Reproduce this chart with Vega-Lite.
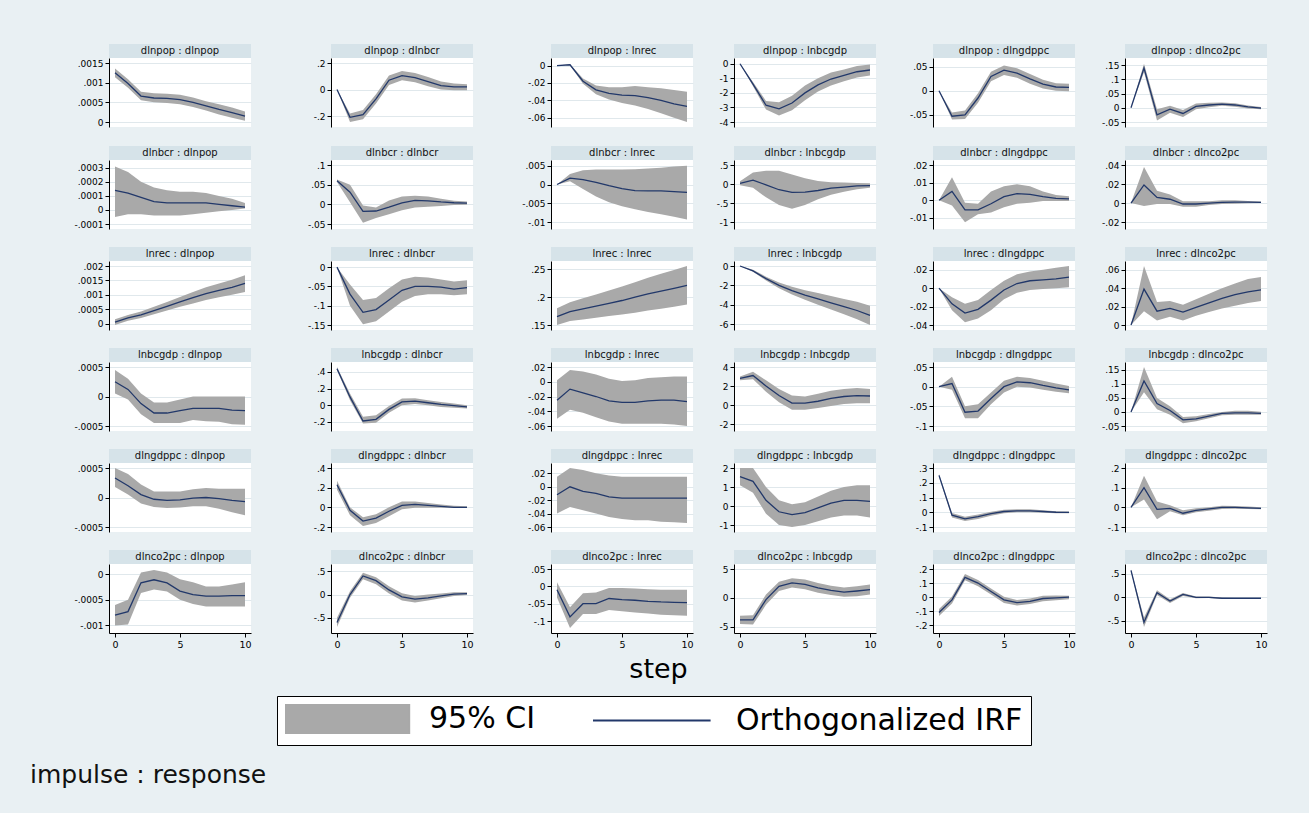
{
  "$schema": "https://vega.github.io/schema/vega-lite/v6.json",
  "background": "#e9f0f3",
  "padding": {"left": 0, "top": 44, "right": 47, "bottom": 25},
  "datasets": {
    "irf": [
      {"imp": "dlnpop", "resp": "dlnpop", "step": [0,1,2,3,4,5,6,7,8,9,10], "irf": [0.00125,0.00098,0.00066,0.00061,0.0006,0.00057,0.0005,0.00041,0.00032,0.00024,0.00015], "lo": [0.00114,0.00087,0.00055,0.0005,0.00048,0.00045,0.00038,0.00029,0.00019,0.00011,0.00003], "hi": [0.00136,0.00109,0.00077,0.00073,0.00072,0.00069,0.00062,0.00053,0.00045,0.00037,0.00027]},
      {"imp": "dlnpop", "resp": "dlnbcr", "step": [0,1,2,3,4,5,6,7,8,9,10], "irf": [0,-0.21,-0.19,-0.07,0.07,0.105,0.09,0.06,0.03,0.02,0.02], "lo": [0,-0.245,-0.225,-0.105,0.035,0.07,0.055,0.025,0,-0.005,-0.005], "hi": [0,-0.18,-0.155,-0.035,0.105,0.14,0.125,0.095,0.06,0.045,0.04]},
      {"imp": "dlnpop", "resp": "lnrec", "step": [0,1,2,3,4,5,6,7,8,9,10], "irf": [0,0.001,-0.018,-0.028,-0.032,-0.034,-0.0345,-0.037,-0.04,-0.044,-0.047], "lo": [0,0.0005,-0.021,-0.033,-0.039,-0.043,-0.046,-0.05,-0.055,-0.06,-0.065], "hi": [0,0.0015,-0.015,-0.023,-0.025,-0.025,-0.0235,-0.025,-0.026,-0.028,-0.03]},
      {"imp": "dlnpop", "resp": "lnbcgdp", "step": [0,1,2,3,4,5,6,7,8,9,10], "irf": [0,-1.4,-2.85,-3.1,-2.7,-2.0,-1.45,-1.05,-0.8,-0.55,-0.43], "lo": [0,-1.55,-3.15,-3.55,-3.2,-2.5,-1.9,-1.5,-1.2,-0.95,-0.8], "hi": [0,-1.25,-2.55,-2.65,-2.2,-1.5,-1.0,-0.6,-0.4,-0.15,-0.05]},
      {"imp": "dlnpop", "resp": "dlngdppc", "step": [0,1,2,3,4,5,6,7,8,9,10], "irf": [0,-0.053,-0.05,-0.015,0.03,0.043,0.037,0.025,0.014,0.008,0.007], "lo": [0,-0.06,-0.059,-0.025,0.02,0.033,0.027,0.015,0.005,0,-0.001], "hi": [0,-0.045,-0.041,-0.005,0.04,0.053,0.047,0.035,0.023,0.016,0.015]},
      {"imp": "dlnpop", "resp": "dlnco2pc", "step": [0,1,2,3,4,5,6,7,8,9,10], "irf": [0,0.14,-0.025,-0.005,-0.02,0.005,0.01,0.013,0.01,0.003,-0.001], "lo": [0,0.125,-0.045,-0.017,-0.032,-0.005,0.002,0.007,0.004,-0.002,-0.005], "hi": [0,0.155,-0.005,0.007,-0.008,0.015,0.018,0.019,0.016,0.008,0.003]},
      {"imp": "dlnbcr", "resp": "dlnpop", "step": [0,1,2,3,4,5,6,7,8,9,10], "irf": [0.00014,0.00012,0.00009,0.00006,0.00005,0.00005,0.00005,0.00005,0.00004,0.00003,0.00002], "lo": [-0.00005,-0.00003,-0.00003,-0.00004,-0.00004,-0.00004,-0.00003,-0.00002,-0.00001,0,0.00001], "hi": [0.00031,0.00027,0.0002,0.00016,0.00014,0.00013,0.00013,0.00012,0.0001,0.00008,0.00005]},
      {"imp": "dlnbcr", "resp": "dlnbcr", "step": [0,1,2,3,4,5,6,7,8,9,10], "irf": [0.06,0.031,-0.018,-0.017,-0.007,0.004,0.01,0.009,0.006,0.004,0.003], "lo": [0.057,0.005,-0.047,-0.035,-0.025,-0.015,-0.008,-0.006,-0.004,-0.002,-0.001], "hi": [0.063,0.05,-0.003,-0.008,0.01,0.02,0.022,0.02,0.014,0.009,0.007]},
      {"imp": "dlnbcr", "resp": "lnrec", "step": [0,1,2,3,4,5,6,7,8,9,10], "irf": [0,0.0017,0.0013,0.0006,-0.0003,-0.0011,-0.0016,-0.0017,-0.0017,-0.0019,-0.0021], "lo": [0,0.0009,-0.0012,-0.0032,-0.0047,-0.0058,-0.0066,-0.0073,-0.0079,-0.0086,-0.0093], "hi": [0,0.0028,0.0038,0.004,0.004,0.004,0.0041,0.0043,0.0045,0.0048,0.005]},
      {"imp": "dlnbcr", "resp": "lnbcgdp", "step": [0,1,2,3,4,5,6,7,8,9,10], "irf": [0.02,0.1,-0.02,-0.15,-0.22,-0.21,-0.17,-0.11,-0.08,-0.05,-0.04], "lo": [-0.03,-0.1,-0.35,-0.55,-0.65,-0.55,-0.4,-0.28,-0.2,-0.14,-0.1], "hi": [0.07,0.3,0.35,0.35,0.25,0.15,0.08,0.05,0.04,0.03,0.02]},
      {"imp": "dlnbcr", "resp": "dlngdppc", "step": [0,1,2,3,4,5,6,7,8,9,10], "irf": [0,0.005,-0.0055,-0.0055,-0.002,0.002,0.0037,0.0033,0.002,0.001,0.0008], "lo": [0,-0.003,-0.0125,-0.008,-0.007,-0.004,-0.002,-0.0015,-0.0005,-0.0005,-0.0005], "hi": [0,0.013,-0.0015,-0.002,0.005,0.008,0.009,0.008,0.005,0.003,0.0022]},
      {"imp": "dlnbcr", "resp": "dlnco2pc", "step": [0,1,2,3,4,5,6,7,8,9,10], "irf": [0,0.019,0.006,0.004,-0.001,-0.001,0,0.0008,0.001,0.001,0.0008], "lo": [0,-0.003,-0.001,-0.001,-0.004,-0.004,-0.002,-0.001,-0.0008,-0.0003,0], "hi": [0,0.038,0.013,0.009,0.002,0.002,0.002,0.003,0.003,0.0023,0.0016]},
      {"imp": "lnrec", "resp": "dlnpop", "step": [0,1,2,3,4,5,6,7,8,9,10], "irf": [0.00005,0.0002,0.0003,0.00045,0.0006,0.00075,0.0009,0.00104,0.00115,0.00126,0.0014], "lo": [-0.00005,0.0001,0.00019,0.00032,0.00045,0.00058,0.0007,0.00082,0.00091,0.001,0.0011], "hi": [0.00015,0.0003,0.00042,0.00058,0.00075,0.00092,0.0011,0.00126,0.00139,0.00152,0.00168]},
      {"imp": "lnrec", "resp": "dlnbcr", "step": [0,1,2,3,4,5,6,7,8,9,10], "irf": [0,-0.07,-0.117,-0.11,-0.085,-0.06,-0.05,-0.05,-0.052,-0.057,-0.053], "lo": [0,-0.1,-0.148,-0.14,-0.115,-0.09,-0.075,-0.07,-0.07,-0.073,-0.07], "hi": [0,-0.045,-0.085,-0.08,-0.055,-0.032,-0.025,-0.027,-0.032,-0.037,-0.034]},
      {"imp": "lnrec", "resp": "lnrec", "step": [0,1,2,3,4,5,6,7,8,9,10], "irf": [0.165,0.174,0.179,0.184,0.189,0.194,0.2,0.206,0.211,0.216,0.221], "lo": [0.15,0.157,0.16,0.163,0.166,0.169,0.172,0.176,0.179,0.183,0.187], "hi": [0.18,0.191,0.198,0.205,0.212,0.219,0.227,0.235,0.242,0.249,0.256]},
      {"imp": "lnrec", "resp": "lnbcgdp", "step": [0,1,2,3,4,5,6,7,8,9,10], "irf": [0,-0.5,-1.3,-2.0,-2.55,-3.0,-3.4,-3.8,-4.2,-4.6,-5.1], "lo": [0,-0.6,-1.5,-2.3,-2.95,-3.5,-4.0,-4.5,-5.0,-5.5,-6.1], "hi": [0,-0.4,-1.1,-1.7,-2.15,-2.5,-2.8,-3.1,-3.4,-3.7,-4.1]},
      {"imp": "lnrec", "resp": "dlngdppc", "step": [0,1,2,3,4,5,6,7,8,9,10], "irf": [0,-0.017,-0.027,-0.023,-0.013,-0.002,0.005,0.008,0.009,0.01,0.012], "lo": [0,-0.024,-0.037,-0.033,-0.024,-0.012,-0.005,-0.002,-0.001,0,0.001], "hi": [0,-0.01,-0.017,-0.013,-0.002,0.008,0.015,0.018,0.02,0.022,0.024]},
      {"imp": "lnrec", "resp": "dlnco2pc", "step": [0,1,2,3,4,5,6,7,8,9,10], "irf": [0,0.039,0.015,0.018,0.014,0.019,0.024,0.029,0.033,0.036,0.038], "lo": [0,0.015,0.005,0.009,0.005,0.01,0.014,0.018,0.021,0.024,0.026], "hi": [0,0.064,0.025,0.026,0.022,0.028,0.034,0.04,0.045,0.05,0.052]},
      {"imp": "lnbcgdp", "resp": "dlnpop", "step": [0,1,2,3,4,5,6,7,8,9,10], "irf": [0.00025,0.00012,-0.00012,-0.00028,-0.00028,-0.00024,-0.0002,-0.0002,-0.0002,-0.00023,-0.00024], "lo": [0.00005,-0.00005,-0.0003,-0.00045,-0.00045,-0.00045,-0.0004,-0.00042,-0.00043,-0.00047,-0.00048], "hi": [0.00045,0.0003,0.00005,-0.0001,-0.0001,-0.00005,0,0,0,0,0]},
      {"imp": "lnbcgdp", "resp": "dlnbcr", "step": [0,1,2,3,4,5,6,7,8,9,10], "irf": [0.44,0.1,-0.19,-0.17,-0.05,0.04,0.05,0.03,0.01,-0.005,-0.02], "lo": [0.42,0.06,-0.22,-0.21,-0.09,0,0.015,0,-0.02,-0.03,-0.04], "hi": [0.46,0.14,-0.14,-0.12,-0.01,0.08,0.085,0.06,0.04,0.02,0]},
      {"imp": "lnbcgdp", "resp": "lnrec", "step": [0,1,2,3,4,5,6,7,8,9,10], "irf": [-0.025,-0.01,-0.015,-0.02,-0.026,-0.028,-0.028,-0.026,-0.025,-0.025,-0.027], "lo": [-0.05,-0.038,-0.042,-0.048,-0.054,-0.057,-0.057,-0.057,-0.057,-0.058,-0.06], "hi": [0.002,0.016,0.014,0.01,0.004,0.001,0.002,0.005,0.006,0.007,0.007]},
      {"imp": "lnbcgdp", "resp": "lnbcgdp", "step": [0,1,2,3,4,5,6,7,8,9,10], "irf": [2.8,3.1,2.0,1.0,0.2,0.2,0.4,0.7,0.9,1.0,0.95], "lo": [2.6,2.7,1.4,0.3,-0.5,-0.5,-0.3,-0.1,0.1,0.2,0.2], "hi": [3.0,3.5,2.6,1.7,1.0,0.9,1.2,1.5,1.7,1.8,1.7]},
      {"imp": "lnbcgdp", "resp": "dlngdppc", "step": [0,1,2,3,4,5,6,7,8,9,10], "irf": [0,0.008,-0.065,-0.062,-0.03,0,0.012,0.01,0.003,-0.003,-0.008], "lo": [0,-0.008,-0.08,-0.08,-0.045,-0.015,0,-0.002,-0.008,-0.013,-0.017], "hi": [0,0.025,-0.05,-0.045,-0.015,0.015,0.025,0.022,0.015,0.008,0.002]},
      {"imp": "lnbcgdp", "resp": "dlnco2pc", "step": [0,1,2,3,4,5,6,7,8,9,10], "irf": [0,0.11,0.03,0.005,-0.028,-0.025,-0.015,-0.005,-0.003,-0.003,-0.005], "lo": [0,0.07,0.01,-0.01,-0.04,-0.033,-0.022,-0.012,-0.01,-0.01,-0.01], "hi": [0,0.16,0.05,0.02,-0.018,-0.015,-0.007,0,0.004,0.004,0.001]},
      {"imp": "dlngdppc", "resp": "dlnpop", "step": [0,1,2,3,4,5,6,7,8,9,10], "irf": [0.00033,0.0002,0.00005,-0.00003,-0.00005,-0.00004,-0.00001,0,-0.00002,-0.00005,-0.00007], "lo": [0.00018,0.00005,-0.0001,-0.00016,-0.00018,-0.00017,-0.00015,-0.00015,-0.00019,-0.00025,-0.0003], "hi": [0.0005,0.0004,0.00022,0.0001,0.0001,0.0001,0.00014,0.00016,0.00015,0.00015,0.00015]},
      {"imp": "dlngdppc", "resp": "dlnbcr", "step": [0,1,2,3,4,5,6,7,8,9,10], "irf": [0.23,-0.03,-0.14,-0.11,-0.04,0.02,0.03,0.02,0.01,0,0], "lo": [0.18,-0.08,-0.19,-0.16,-0.09,-0.02,-0.005,-0.005,-0.005,-0.005,-0.005], "hi": [0.27,0,-0.1,-0.07,0,0.06,0.06,0.045,0.03,0.015,0.01]},
      {"imp": "dlngdppc", "resp": "lnrec", "step": [0,1,2,3,4,5,6,7,8,9,10], "irf": [-0.012,0,-0.007,-0.01,-0.015,-0.017,-0.017,-0.017,-0.017,-0.017,-0.017], "lo": [-0.04,-0.03,-0.035,-0.04,-0.045,-0.048,-0.05,-0.05,-0.052,-0.053,-0.054], "hi": [0.015,0.028,0.025,0.02,0.017,0.015,0.015,0.015,0.015,0.015,0.015]},
      {"imp": "dlngdppc", "resp": "lnbcgdp", "step": [0,1,2,3,4,5,6,7,8,9,10], "irf": [1.55,1.3,0.3,-0.3,-0.45,-0.35,-0.1,0.15,0.3,0.3,0.25], "lo": [1.1,0.7,-0.4,-1.0,-1.1,-1.0,-0.8,-0.6,-0.5,-0.5,-0.6], "hi": [2.0,2.0,1.0,0.3,0.1,0.2,0.5,0.8,1.0,1.1,1.1]},
      {"imp": "dlngdppc", "resp": "dlngdppc", "step": [0,1,2,3,4,5,6,7,8,9,10], "irf": [0.25,-0.02,-0.045,-0.03,-0.01,0.005,0.01,0.01,0.005,0,-0.001], "lo": [0.24,-0.035,-0.06,-0.045,-0.023,-0.007,0,0,-0.004,-0.007,-0.007], "hi": [0.26,-0.005,-0.03,-0.015,0.003,0.017,0.02,0.02,0.014,0.007,0.005]},
      {"imp": "dlngdppc", "resp": "dlnco2pc", "step": [0,1,2,3,4,5,6,7,8,9,10], "irf": [0,0.1,-0.01,-0.005,-0.03,-0.015,-0.008,0,0,-0.003,-0.005], "lo": [0,0.04,-0.06,-0.02,-0.04,-0.025,-0.018,-0.008,-0.007,-0.008,-0.01], "hi": [0,0.16,0.03,0.01,-0.015,-0.005,0,0.008,0.007,0.004,0.001]},
      {"imp": "dlnco2pc", "resp": "dlnpop", "step": [0,1,2,3,4,5,6,7,8,9,10], "irf": [-0.0008,-0.00073,-0.00017,-0.00011,-0.00017,-0.00033,-0.0004,-0.00043,-0.00043,-0.00042,-0.00042], "lo": [-0.001,-0.00098,-0.00037,-0.0003,-0.00034,-0.0005,-0.00058,-0.00063,-0.00063,-0.00063,-0.00063], "hi": [-0.0006,-0.0005,0.00003,0.00008,0.00003,-0.0001,-0.00016,-0.00024,-0.00024,-0.0002,-0.00016]},
      {"imp": "dlnco2pc", "resp": "dlnbcr", "step": [0,1,2,3,4,5,6,7,8,9,10], "irf": [-0.6,0,0.4,0.3,0.1,-0.05,-0.1,-0.07,-0.03,0.01,0.02], "lo": [-0.7,-0.07,0.33,0.22,0.02,-0.13,-0.17,-0.13,-0.08,-0.03,-0.01], "hi": [-0.5,0.07,0.47,0.37,0.18,0.03,-0.03,0,0.02,0.05,0.05]},
      {"imp": "dlnco2pc", "resp": "lnrec", "step": [0,1,2,3,4,5,6,7,8,9,10], "irf": [-0.01,-0.088,-0.05,-0.05,-0.035,-0.038,-0.04,-0.043,-0.045,-0.046,-0.047], "lo": [-0.032,-0.12,-0.08,-0.08,-0.068,-0.072,-0.075,-0.078,-0.082,-0.083,-0.085], "hi": [0.012,-0.06,-0.02,-0.018,-0.005,-0.005,-0.006,-0.008,-0.01,-0.01,-0.01]},
      {"imp": "dlnco2pc", "resp": "lnbcgdp", "step": [0,1,2,3,4,5,6,7,8,9,10], "irf": [-3.8,-3.8,-0.3,2.0,2.6,2.35,1.75,1.3,1.0,1.2,1.45], "lo": [-4.5,-4.6,-1.2,1.2,1.8,1.5,0.9,0.5,0.2,0.3,0.6], "hi": [-3.1,-3.0,0.6,2.8,3.4,3.2,2.6,2.1,1.8,2.0,2.3]},
      {"imp": "dlnco2pc", "resp": "dlngdppc", "step": [0,1,2,3,4,5,6,7,8,9,10], "irf": [-0.11,-0.02,0.14,0.1,0.04,-0.02,-0.04,-0.03,-0.01,-0.005,0], "lo": [-0.135,-0.045,0.12,0.078,0.018,-0.042,-0.06,-0.05,-0.03,-0.022,-0.015], "hi": [-0.085,0.005,0.165,0.122,0.062,0.002,-0.02,-0.01,0.01,0.012,0.01]},
      {"imp": "dlnco2pc", "resp": "dlnco2pc", "step": [0,1,2,3,4,5,6,7,8,9,10], "irf": [0.57,-0.53,0.1,-0.08,0.06,0,0,-0.02,-0.02,-0.02,-0.02], "lo": [0.55,-0.63,0.05,-0.12,0.03,-0.02,-0.015,-0.035,-0.03,-0.03,-0.03], "hi": [0.59,-0.43,0.15,-0.04,0.09,0.02,0.015,-0.005,-0.01,-0.01,-0.01]}
    ]
  },
  "data": {"name": "irf"},
  "transform": [{"flatten": ["step", "irf", "lo", "hi"]}],
  "title": {"text": "impulse : response", "orient": "bottom", "anchor": "start", "fontSize": 25, "fontWeight": "normal", "color": "#111", "offset": 17, "dx": 30},
  "vconcat": [
    {
      "title": {"text": "step", "orient": "bottom", "anchor": "middle", "fontSize": 27, "fontWeight": "normal", "color": "#000", "offset": 8, "dx": 25},
      "columns": 6,
      "spacing": {"row": 18, "column": 4},
      "concat": [
        {"bounds": "flush", "spacing": 0, "vconcat": [
          {"width": 142, "height": 14, "view": {"fill": "#d6e3e9", "stroke": null}, "data": {"values": [{"t": "dlnpop : dlnpop"}]}, "mark": {"type": "text", "fontSize": 10}, "encoding": {"text": {"field": "t"}}},
          {"width": 142, "height": 69, "transform": [{"filter": "datum.imp == 'dlnpop' && datum.resp == 'dlnpop'"}],
           "encoding": {"x": {"field": "step", "type": "quantitative", "scale": {"domain": [0, 10], "padding": 6}, "axis": null}},
           "layer": [
             {"mark": "area", "encoding": {"y": {"field": "lo", "type": "quantitative", "scale": {"domain": [0, 0.0015], "zero": false, "nice": false, "padding": 5}, "axis": {"title": null, "values": [0, 0.0005, 0.001, 0.0015], "minExtent": 109, "maxExtent": 109, "labelExpr": "replace(toString(datum.value), regexp('^(-?)0[.]'), '$1.')"}}, "y2": {"field": "hi"},
               "color": {"datum": "95% CI", "legend": {"title": null, "orient": "none", "legendX": 168, "legendY": 652, "direction": "horizontal",
                 "encode": {"symbols": {"update": {
                   "shape": {"signal": "datum.value === '95% CI' ? 'M-1,-1H7.8V1H-1Z' : 'M-1,0H7.4'"},
                   "fill": {"signal": "datum.value === '95% CI' ? '#a9a9a9' : 'transparent'"},
                   "stroke": {"signal": "datum.value === '95% CI' ? '#9a9a9a' : '#22386a'"},
                   "strokeWidth": {"value": 2}, "opacity": {"value": 1}}}}}}}},
             {"mark": "line", "encoding": {"y": {"field": "irf", "type": "quantitative"}, "color": {"datum": "Orthogonalized IRF"}}}
           ]}
        ]},
        {"bounds": "flush", "spacing": 0, "vconcat": [
          {"width": 142, "height": 14, "view": {"fill": "#d6e3e9", "stroke": null}, "data": {"values": [{"t": "dlnpop : dlnbcr"}]}, "mark": {"type": "text", "fontSize": 10}, "encoding": {"text": {"field": "t"}}},
          {"width": 142, "height": 69, "transform": [{"filter": "datum.imp == 'dlnpop' && datum.resp == 'dlnbcr'"}],
           "encoding": {"x": {"field": "step", "type": "quantitative", "scale": {"domain": [0, 10], "padding": 6}, "axis": null}},
           "layer": [
             {"mark": "area", "encoding": {"y": {"field": "lo", "type": "quantitative", "scale": {"domain": [-0.245, 0.2], "zero": false, "nice": false, "padding": 5}, "axis": {"title": null, "values": [-0.2, 0, 0.2], "minExtent": 75, "maxExtent": 75, "labelExpr": "replace(toString(datum.value), regexp('^(-?)0[.]'), '$1.')"}}, "y2": {"field": "hi"}, "color": {"datum": "95% CI"}}},
             {"mark": "line", "encoding": {"y": {"field": "irf", "type": "quantitative"}, "color": {"datum": "Orthogonalized IRF"}}}
           ]}
        ]},
        {"bounds": "flush", "spacing": 0, "vconcat": [
          {"width": 142, "height": 14, "view": {"fill": "#d6e3e9", "stroke": null}, "data": {"values": [{"t": "dlnpop : lnrec"}]}, "mark": {"type": "text", "fontSize": 10}, "encoding": {"text": {"field": "t"}}},
          {"width": 142, "height": 69, "transform": [{"filter": "datum.imp == 'dlnpop' && datum.resp == 'lnrec'"}],
           "encoding": {"x": {"field": "step", "type": "quantitative", "scale": {"domain": [0, 10], "padding": 6}, "axis": null}},
           "layer": [
             {"mark": "area", "encoding": {"y": {"field": "lo", "type": "quantitative", "scale": {"domain": [-0.065, 0.003], "zero": false, "nice": false, "padding": 5}, "axis": {"title": null, "values": [-0.06, -0.04, -0.02, 0], "minExtent": 73, "maxExtent": 73, "labelExpr": "replace(toString(datum.value), regexp('^(-?)0[.]'), '$1.')"}}, "y2": {"field": "hi"}, "color": {"datum": "95% CI"}}},
             {"mark": "line", "encoding": {"y": {"field": "irf", "type": "quantitative"}, "color": {"datum": "Orthogonalized IRF"}}}
           ]}
        ]},
        {"bounds": "flush", "spacing": 0, "vconcat": [
          {"width": 142, "height": 14, "view": {"fill": "#d6e3e9", "stroke": null}, "data": {"values": [{"t": "dlnpop : lnbcgdp"}]}, "mark": {"type": "text", "fontSize": 10}, "encoding": {"text": {"field": "t"}}},
          {"width": 142, "height": 69, "transform": [{"filter": "datum.imp == 'dlnpop' && datum.resp == 'lnbcgdp'"}],
           "encoding": {"x": {"field": "step", "type": "quantitative", "scale": {"domain": [0, 10], "padding": 6}, "axis": null}},
           "layer": [
             {"mark": "area", "encoding": {"y": {"field": "lo", "type": "quantitative", "scale": {"domain": [-4, 0.05], "zero": false, "nice": false, "padding": 5}, "axis": {"title": null, "values": [-4, -3, -2, -1, 0], "minExtent": 36, "maxExtent": 36, "labelExpr": "replace(toString(datum.value), regexp('^(-?)0[.]'), '$1.')"}}, "y2": {"field": "hi"}, "color": {"datum": "95% CI"}}},
             {"mark": "line", "encoding": {"y": {"field": "irf", "type": "quantitative"}, "color": {"datum": "Orthogonalized IRF"}}}
           ]}
        ]},
        {"bounds": "flush", "spacing": 0, "vconcat": [
          {"width": 142, "height": 14, "view": {"fill": "#d6e3e9", "stroke": null}, "data": {"values": [{"t": "dlnpop : dlngdppc"}]}, "mark": {"type": "text", "fontSize": 10}, "encoding": {"text": {"field": "t"}}},
          {"width": 142, "height": 69, "transform": [{"filter": "datum.imp == 'dlnpop' && datum.resp == 'dlngdppc'"}],
           "encoding": {"x": {"field": "step", "type": "quantitative", "scale": {"domain": [0, 10], "padding": 6}, "axis": null}},
           "layer": [
             {"mark": "area", "encoding": {"y": {"field": "lo", "type": "quantitative", "scale": {"domain": [-0.065, 0.058], "zero": false, "nice": false, "padding": 5}, "axis": {"title": null, "values": [-0.05, 0, 0.05], "minExtent": 52, "maxExtent": 52, "labelExpr": "replace(toString(datum.value), regexp('^(-?)0[.]'), '$1.')"}}, "y2": {"field": "hi"}, "color": {"datum": "95% CI"}}},
             {"mark": "line", "encoding": {"y": {"field": "irf", "type": "quantitative"}, "color": {"datum": "Orthogonalized IRF"}}}
           ]}
        ]},
        {"bounds": "flush", "spacing": 0, "vconcat": [
          {"width": 142, "height": 14, "view": {"fill": "#d6e3e9", "stroke": null}, "data": {"values": [{"t": "dlnpop : dlnco2pc"}]}, "mark": {"type": "text", "fontSize": 10}, "encoding": {"text": {"field": "t"}}},
          {"width": 142, "height": 69, "transform": [{"filter": "datum.imp == 'dlnpop' && datum.resp == 'dlnco2pc'"}],
           "encoding": {"x": {"field": "step", "type": "quantitative", "scale": {"domain": [0, 10], "padding": 6}, "axis": null}},
           "layer": [
             {"mark": "area", "encoding": {"y": {"field": "lo", "type": "quantitative", "scale": {"domain": [-0.05, 0.158], "zero": false, "nice": false, "padding": 5}, "axis": {"title": null, "values": [-0.05, 0, 0.05, 0.1, 0.15], "minExtent": 45, "maxExtent": 45, "labelExpr": "replace(toString(datum.value), regexp('^(-?)0[.]'), '$1.')"}}, "y2": {"field": "hi"}, "color": {"datum": "95% CI"}}},
             {"mark": "line", "encoding": {"y": {"field": "irf", "type": "quantitative"}, "color": {"datum": "Orthogonalized IRF"}}}
           ]}
        ]},

        {"bounds": "flush", "spacing": 0, "vconcat": [
          {"width": 142, "height": 14, "view": {"fill": "#d6e3e9", "stroke": null}, "data": {"values": [{"t": "dlnbcr : dlnpop"}]}, "mark": {"type": "text", "fontSize": 10}, "encoding": {"text": {"field": "t"}}},
          {"width": 142, "height": 69, "transform": [{"filter": "datum.imp == 'dlnbcr' && datum.resp == 'dlnpop'"}],
           "encoding": {"x": {"field": "step", "type": "quantitative", "scale": {"domain": [0, 10], "padding": 6}, "axis": null}},
           "layer": [
             {"mark": "area", "encoding": {"y": {"field": "lo", "type": "quantitative", "scale": {"domain": [-0.0001, 0.00032], "zero": false, "nice": false, "padding": 5}, "axis": {"title": null, "values": [-0.0001, 0, 0.0001, 0.0002, 0.0003], "minExtent": 109, "maxExtent": 109, "labelExpr": "replace(toString(datum.value), regexp('^(-?)0[.]'), '$1.')"}}, "y2": {"field": "hi"}, "color": {"datum": "95% CI"}}},
             {"mark": "line", "encoding": {"y": {"field": "irf", "type": "quantitative"}, "color": {"datum": "Orthogonalized IRF"}}}
           ]}
        ]},
        {"bounds": "flush", "spacing": 0, "vconcat": [
          {"width": 142, "height": 14, "view": {"fill": "#d6e3e9", "stroke": null}, "data": {"values": [{"t": "dlnbcr : dlnbcr"}]}, "mark": {"type": "text", "fontSize": 10}, "encoding": {"text": {"field": "t"}}},
          {"width": 142, "height": 69, "transform": [{"filter": "datum.imp == 'dlnbcr' && datum.resp == 'dlnbcr'"}],
           "encoding": {"x": {"field": "step", "type": "quantitative", "scale": {"domain": [0, 10], "padding": 6}, "axis": null}},
           "layer": [
             {"mark": "area", "encoding": {"y": {"field": "lo", "type": "quantitative", "scale": {"domain": [-0.05, 0.1], "zero": false, "nice": false, "padding": 5}, "axis": {"title": null, "values": [-0.05, 0, 0.05, 0.1], "minExtent": 75, "maxExtent": 75, "labelExpr": "replace(toString(datum.value), regexp('^(-?)0[.]'), '$1.')"}}, "y2": {"field": "hi"}, "color": {"datum": "95% CI"}}},
             {"mark": "line", "encoding": {"y": {"field": "irf", "type": "quantitative"}, "color": {"datum": "Orthogonalized IRF"}}}
           ]}
        ]},
        {"bounds": "flush", "spacing": 0, "vconcat": [
          {"width": 142, "height": 14, "view": {"fill": "#d6e3e9", "stroke": null}, "data": {"values": [{"t": "dlnbcr : lnrec"}]}, "mark": {"type": "text", "fontSize": 10}, "encoding": {"text": {"field": "t"}}},
          {"width": 142, "height": 69, "transform": [{"filter": "datum.imp == 'dlnbcr' && datum.resp == 'lnrec'"}],
           "encoding": {"x": {"field": "step", "type": "quantitative", "scale": {"domain": [0, 10], "padding": 6}, "axis": null}},
           "layer": [
             {"mark": "area", "encoding": {"y": {"field": "lo", "type": "quantitative", "scale": {"domain": [-0.0105, 0.0052], "zero": false, "nice": false, "padding": 5}, "axis": {"title": null, "values": [-0.01, -0.005, 0, 0.005], "minExtent": 73, "maxExtent": 73, "labelExpr": "replace(toString(datum.value), regexp('^(-?)0[.]'), '$1.')"}}, "y2": {"field": "hi"}, "color": {"datum": "95% CI"}}},
             {"mark": "line", "encoding": {"y": {"field": "irf", "type": "quantitative"}, "color": {"datum": "Orthogonalized IRF"}}}
           ]}
        ]},
        {"bounds": "flush", "spacing": 0, "vconcat": [
          {"width": 142, "height": 14, "view": {"fill": "#d6e3e9", "stroke": null}, "data": {"values": [{"t": "dlnbcr : lnbcgdp"}]}, "mark": {"type": "text", "fontSize": 10}, "encoding": {"text": {"field": "t"}}},
          {"width": 142, "height": 69, "transform": [{"filter": "datum.imp == 'dlnbcr' && datum.resp == 'lnbcgdp'"}],
           "encoding": {"x": {"field": "step", "type": "quantitative", "scale": {"domain": [0, 10], "padding": 6}, "axis": null}},
           "layer": [
             {"mark": "area", "encoding": {"y": {"field": "lo", "type": "quantitative", "scale": {"domain": [-1.05, 0.5], "zero": false, "nice": false, "padding": 5}, "axis": {"title": null, "values": [-1, -0.5, 0, 0.5], "minExtent": 36, "maxExtent": 36, "labelExpr": "replace(toString(datum.value), regexp('^(-?)0[.]'), '$1.')"}}, "y2": {"field": "hi"}, "color": {"datum": "95% CI"}}},
             {"mark": "line", "encoding": {"y": {"field": "irf", "type": "quantitative"}, "color": {"datum": "Orthogonalized IRF"}}}
           ]}
        ]},
        {"bounds": "flush", "spacing": 0, "vconcat": [
          {"width": 142, "height": 14, "view": {"fill": "#d6e3e9", "stroke": null}, "data": {"values": [{"t": "dlnbcr : dlngdppc"}]}, "mark": {"type": "text", "fontSize": 10}, "encoding": {"text": {"field": "t"}}},
          {"width": 142, "height": 69, "transform": [{"filter": "datum.imp == 'dlnbcr' && datum.resp == 'dlngdppc'"}],
           "encoding": {"x": {"field": "step", "type": "quantitative", "scale": {"domain": [0, 10], "padding": 6}, "axis": null}},
           "layer": [
             {"mark": "area", "encoding": {"y": {"field": "lo", "type": "quantitative", "scale": {"domain": [-0.0135, 0.02], "zero": false, "nice": false, "padding": 5}, "axis": {"title": null, "values": [-0.01, 0, 0.01, 0.02], "minExtent": 52, "maxExtent": 52, "labelExpr": "replace(toString(datum.value), regexp('^(-?)0[.]'), '$1.')"}}, "y2": {"field": "hi"}, "color": {"datum": "95% CI"}}},
             {"mark": "line", "encoding": {"y": {"field": "irf", "type": "quantitative"}, "color": {"datum": "Orthogonalized IRF"}}}
           ]}
        ]},
        {"bounds": "flush", "spacing": 0, "vconcat": [
          {"width": 142, "height": 14, "view": {"fill": "#d6e3e9", "stroke": null}, "data": {"values": [{"t": "dlnbcr : dlnco2pc"}]}, "mark": {"type": "text", "fontSize": 10}, "encoding": {"text": {"field": "t"}}},
          {"width": 142, "height": 69, "transform": [{"filter": "datum.imp == 'dlnbcr' && datum.resp == 'dlnco2pc'"}],
           "encoding": {"x": {"field": "step", "type": "quantitative", "scale": {"domain": [0, 10], "padding": 6}, "axis": null}},
           "layer": [
             {"mark": "area", "encoding": {"y": {"field": "lo", "type": "quantitative", "scale": {"domain": [-0.022, 0.04], "zero": false, "nice": false, "padding": 5}, "axis": {"title": null, "values": [-0.02, 0, 0.02, 0.04], "minExtent": 45, "maxExtent": 45, "labelExpr": "replace(toString(datum.value), regexp('^(-?)0[.]'), '$1.')"}}, "y2": {"field": "hi"}, "color": {"datum": "95% CI"}}},
             {"mark": "line", "encoding": {"y": {"field": "irf", "type": "quantitative"}, "color": {"datum": "Orthogonalized IRF"}}}
           ]}
        ]},

        {"bounds": "flush", "spacing": 0, "vconcat": [
          {"width": 142, "height": 14, "view": {"fill": "#d6e3e9", "stroke": null}, "data": {"values": [{"t": "lnrec : dlnpop"}]}, "mark": {"type": "text", "fontSize": 10}, "encoding": {"text": {"field": "t"}}},
          {"width": 142, "height": 69, "transform": [{"filter": "datum.imp == 'lnrec' && datum.resp == 'dlnpop'"}],
           "encoding": {"x": {"field": "step", "type": "quantitative", "scale": {"domain": [0, 10], "padding": 6}, "axis": null}},
           "layer": [
             {"mark": "area", "encoding": {"y": {"field": "lo", "type": "quantitative", "scale": {"domain": [-0.00005, 0.002], "zero": false, "nice": false, "padding": 5}, "axis": {"title": null, "values": [0, 0.0005, 0.001, 0.0015, 0.002], "minExtent": 109, "maxExtent": 109, "labelExpr": "replace(toString(datum.value), regexp('^(-?)0[.]'), '$1.')"}}, "y2": {"field": "hi"}, "color": {"datum": "95% CI"}}},
             {"mark": "line", "encoding": {"y": {"field": "irf", "type": "quantitative"}, "color": {"datum": "Orthogonalized IRF"}}}
           ]}
        ]},
        {"bounds": "flush", "spacing": 0, "vconcat": [
          {"width": 142, "height": 14, "view": {"fill": "#d6e3e9", "stroke": null}, "data": {"values": [{"t": "lnrec : dlnbcr"}]}, "mark": {"type": "text", "fontSize": 10}, "encoding": {"text": {"field": "t"}}},
          {"width": 142, "height": 69, "transform": [{"filter": "datum.imp == 'lnrec' && datum.resp == 'dlnbcr'"}],
           "encoding": {"x": {"field": "step", "type": "quantitative", "scale": {"domain": [0, 10], "padding": 6}, "axis": null}},
           "layer": [
             {"mark": "area", "encoding": {"y": {"field": "lo", "type": "quantitative", "scale": {"domain": [-0.15, 0.003], "zero": false, "nice": false, "padding": 5}, "axis": {"title": null, "values": [-0.15, -0.1, -0.05, 0], "minExtent": 75, "maxExtent": 75, "labelExpr": "replace(toString(datum.value), regexp('^(-?)0[.]'), '$1.')"}}, "y2": {"field": "hi"}, "color": {"datum": "95% CI"}}},
             {"mark": "line", "encoding": {"y": {"field": "irf", "type": "quantitative"}, "color": {"datum": "Orthogonalized IRF"}}}
           ]}
        ]},
        {"bounds": "flush", "spacing": 0, "vconcat": [
          {"width": 142, "height": 14, "view": {"fill": "#d6e3e9", "stroke": null}, "data": {"values": [{"t": "lnrec : lnrec"}]}, "mark": {"type": "text", "fontSize": 10}, "encoding": {"text": {"field": "t"}}},
          {"width": 142, "height": 69, "transform": [{"filter": "datum.imp == 'lnrec' && datum.resp == 'lnrec'"}],
           "encoding": {"x": {"field": "step", "type": "quantitative", "scale": {"domain": [0, 10], "padding": 6}, "axis": null}},
           "layer": [
             {"mark": "area", "encoding": {"y": {"field": "lo", "type": "quantitative", "scale": {"domain": [0.15, 0.256], "zero": false, "nice": false, "padding": 5}, "axis": {"title": null, "values": [0.15, 0.2, 0.25], "minExtent": 73, "maxExtent": 73, "labelExpr": "replace(toString(datum.value), regexp('^(-?)0[.]'), '$1.')"}}, "y2": {"field": "hi"}, "color": {"datum": "95% CI"}}},
             {"mark": "line", "encoding": {"y": {"field": "irf", "type": "quantitative"}, "color": {"datum": "Orthogonalized IRF"}}}
           ]}
        ]},
        {"bounds": "flush", "spacing": 0, "vconcat": [
          {"width": 142, "height": 14, "view": {"fill": "#d6e3e9", "stroke": null}, "data": {"values": [{"t": "lnrec : lnbcgdp"}]}, "mark": {"type": "text", "fontSize": 10}, "encoding": {"text": {"field": "t"}}},
          {"width": 142, "height": 69, "transform": [{"filter": "datum.imp == 'lnrec' && datum.resp == 'lnbcgdp'"}],
           "encoding": {"x": {"field": "step", "type": "quantitative", "scale": {"domain": [0, 10], "padding": 6}, "axis": null}},
           "layer": [
             {"mark": "area", "encoding": {"y": {"field": "lo", "type": "quantitative", "scale": {"domain": [-6.1, 0], "zero": false, "nice": false, "padding": 5}, "axis": {"title": null, "values": [-6, -4, -2, 0], "minExtent": 36, "maxExtent": 36, "labelExpr": "replace(toString(datum.value), regexp('^(-?)0[.]'), '$1.')"}}, "y2": {"field": "hi"}, "color": {"datum": "95% CI"}}},
             {"mark": "line", "encoding": {"y": {"field": "irf", "type": "quantitative"}, "color": {"datum": "Orthogonalized IRF"}}}
           ]}
        ]},
        {"bounds": "flush", "spacing": 0, "vconcat": [
          {"width": 142, "height": 14, "view": {"fill": "#d6e3e9", "stroke": null}, "data": {"values": [{"t": "lnrec : dlngdppc"}]}, "mark": {"type": "text", "fontSize": 10}, "encoding": {"text": {"field": "t"}}},
          {"width": 142, "height": 69, "transform": [{"filter": "datum.imp == 'lnrec' && datum.resp == 'dlngdppc'"}],
           "encoding": {"x": {"field": "step", "type": "quantitative", "scale": {"domain": [0, 10], "padding": 6}, "axis": null}},
           "layer": [
             {"mark": "area", "encoding": {"y": {"field": "lo", "type": "quantitative", "scale": {"domain": [-0.04, 0.024], "zero": false, "nice": false, "padding": 5}, "axis": {"title": null, "values": [-0.04, -0.02, 0, 0.02], "minExtent": 52, "maxExtent": 52, "labelExpr": "replace(toString(datum.value), regexp('^(-?)0[.]'), '$1.')"}}, "y2": {"field": "hi"}, "color": {"datum": "95% CI"}}},
             {"mark": "line", "encoding": {"y": {"field": "irf", "type": "quantitative"}, "color": {"datum": "Orthogonalized IRF"}}}
           ]}
        ]},
        {"bounds": "flush", "spacing": 0, "vconcat": [
          {"width": 142, "height": 14, "view": {"fill": "#d6e3e9", "stroke": null}, "data": {"values": [{"t": "lnrec : dlnco2pc"}]}, "mark": {"type": "text", "fontSize": 10}, "encoding": {"text": {"field": "t"}}},
          {"width": 142, "height": 69, "transform": [{"filter": "datum.imp == 'lnrec' && datum.resp == 'dlnco2pc'"}],
           "encoding": {"x": {"field": "step", "type": "quantitative", "scale": {"domain": [0, 10], "padding": 6}, "axis": null}},
           "layer": [
             {"mark": "area", "encoding": {"y": {"field": "lo", "type": "quantitative", "scale": {"domain": [0, 0.064], "zero": false, "nice": false, "padding": 5}, "axis": {"title": null, "values": [0, 0.02, 0.04, 0.06], "minExtent": 45, "maxExtent": 45, "labelExpr": "replace(toString(datum.value), regexp('^(-?)0[.]'), '$1.')"}}, "y2": {"field": "hi"}, "color": {"datum": "95% CI"}}},
             {"mark": "line", "encoding": {"y": {"field": "irf", "type": "quantitative"}, "color": {"datum": "Orthogonalized IRF"}}}
           ]}
        ]},

        {"bounds": "flush", "spacing": 0, "vconcat": [
          {"width": 142, "height": 14, "view": {"fill": "#d6e3e9", "stroke": null}, "data": {"values": [{"t": "lnbcgdp : dlnpop"}]}, "mark": {"type": "text", "fontSize": 10}, "encoding": {"text": {"field": "t"}}},
          {"width": 142, "height": 69, "transform": [{"filter": "datum.imp == 'lnbcgdp' && datum.resp == 'dlnpop'"}],
           "encoding": {"x": {"field": "step", "type": "quantitative", "scale": {"domain": [0, 10], "padding": 6}, "axis": null}},
           "layer": [
             {"mark": "area", "encoding": {"y": {"field": "lo", "type": "quantitative", "scale": {"domain": [-0.0005, 0.0005], "zero": false, "nice": false, "padding": 5}, "axis": {"title": null, "values": [-0.0005, 0, 0.0005], "minExtent": 109, "maxExtent": 109, "labelExpr": "replace(toString(datum.value), regexp('^(-?)0[.]'), '$1.')"}}, "y2": {"field": "hi"}, "color": {"datum": "95% CI"}}},
             {"mark": "line", "encoding": {"y": {"field": "irf", "type": "quantitative"}, "color": {"datum": "Orthogonalized IRF"}}}
           ]}
        ]},
        {"bounds": "flush", "spacing": 0, "vconcat": [
          {"width": 142, "height": 14, "view": {"fill": "#d6e3e9", "stroke": null}, "data": {"values": [{"t": "lnbcgdp : dlnbcr"}]}, "mark": {"type": "text", "fontSize": 10}, "encoding": {"text": {"field": "t"}}},
          {"width": 142, "height": 69, "transform": [{"filter": "datum.imp == 'lnbcgdp' && datum.resp == 'dlnbcr'"}],
           "encoding": {"x": {"field": "step", "type": "quantitative", "scale": {"domain": [0, 10], "padding": 6}, "axis": null}},
           "layer": [
             {"mark": "area", "encoding": {"y": {"field": "lo", "type": "quantitative", "scale": {"domain": [-0.25, 0.46], "zero": false, "nice": false, "padding": 5}, "axis": {"title": null, "values": [-0.2, 0, 0.2, 0.4], "minExtent": 75, "maxExtent": 75, "labelExpr": "replace(toString(datum.value), regexp('^(-?)0[.]'), '$1.')"}}, "y2": {"field": "hi"}, "color": {"datum": "95% CI"}}},
             {"mark": "line", "encoding": {"y": {"field": "irf", "type": "quantitative"}, "color": {"datum": "Orthogonalized IRF"}}}
           ]}
        ]},
        {"bounds": "flush", "spacing": 0, "vconcat": [
          {"width": 142, "height": 14, "view": {"fill": "#d6e3e9", "stroke": null}, "data": {"values": [{"t": "lnbcgdp : lnrec"}]}, "mark": {"type": "text", "fontSize": 10}, "encoding": {"text": {"field": "t"}}},
          {"width": 142, "height": 69, "transform": [{"filter": "datum.imp == 'lnbcgdp' && datum.resp == 'lnrec'"}],
           "encoding": {"x": {"field": "step", "type": "quantitative", "scale": {"domain": [0, 10], "padding": 6}, "axis": null}},
           "layer": [
             {"mark": "area", "encoding": {"y": {"field": "lo", "type": "quantitative", "scale": {"domain": [-0.06, 0.02], "zero": false, "nice": false, "padding": 5}, "axis": {"title": null, "values": [-0.06, -0.04, -0.02, 0, 0.02], "minExtent": 73, "maxExtent": 73, "labelExpr": "replace(toString(datum.value), regexp('^(-?)0[.]'), '$1.')"}}, "y2": {"field": "hi"}, "color": {"datum": "95% CI"}}},
             {"mark": "line", "encoding": {"y": {"field": "irf", "type": "quantitative"}, "color": {"datum": "Orthogonalized IRF"}}}
           ]}
        ]},
        {"bounds": "flush", "spacing": 0, "vconcat": [
          {"width": 142, "height": 14, "view": {"fill": "#d6e3e9", "stroke": null}, "data": {"values": [{"t": "lnbcgdp : lnbcgdp"}]}, "mark": {"type": "text", "fontSize": 10}, "encoding": {"text": {"field": "t"}}},
          {"width": 142, "height": 69, "transform": [{"filter": "datum.imp == 'lnbcgdp' && datum.resp == 'lnbcgdp'"}],
           "encoding": {"x": {"field": "step", "type": "quantitative", "scale": {"domain": [0, 10], "padding": 6}, "axis": null}},
           "layer": [
             {"mark": "area", "encoding": {"y": {"field": "lo", "type": "quantitative", "scale": {"domain": [-2.2, 4], "zero": false, "nice": false, "padding": 5}, "axis": {"title": null, "values": [-2, 0, 2, 4], "minExtent": 36, "maxExtent": 36, "labelExpr": "replace(toString(datum.value), regexp('^(-?)0[.]'), '$1.')"}}, "y2": {"field": "hi"}, "color": {"datum": "95% CI"}}},
             {"mark": "line", "encoding": {"y": {"field": "irf", "type": "quantitative"}, "color": {"datum": "Orthogonalized IRF"}}}
           ]}
        ]},
        {"bounds": "flush", "spacing": 0, "vconcat": [
          {"width": 142, "height": 14, "view": {"fill": "#d6e3e9", "stroke": null}, "data": {"values": [{"t": "lnbcgdp : dlngdppc"}]}, "mark": {"type": "text", "fontSize": 10}, "encoding": {"text": {"field": "t"}}},
          {"width": 142, "height": 69, "transform": [{"filter": "datum.imp == 'lnbcgdp' && datum.resp == 'dlngdppc'"}],
           "encoding": {"x": {"field": "step", "type": "quantitative", "scale": {"domain": [0, 10], "padding": 6}, "axis": null}},
           "layer": [
             {"mark": "area", "encoding": {"y": {"field": "lo", "type": "quantitative", "scale": {"domain": [-0.1, 0.05], "zero": false, "nice": false, "padding": 5}, "axis": {"title": null, "values": [-0.1, -0.05, 0, 0.05], "minExtent": 52, "maxExtent": 52, "labelExpr": "replace(toString(datum.value), regexp('^(-?)0[.]'), '$1.')"}}, "y2": {"field": "hi"}, "color": {"datum": "95% CI"}}},
             {"mark": "line", "encoding": {"y": {"field": "irf", "type": "quantitative"}, "color": {"datum": "Orthogonalized IRF"}}}
           ]}
        ]},
        {"bounds": "flush", "spacing": 0, "vconcat": [
          {"width": 142, "height": 14, "view": {"fill": "#d6e3e9", "stroke": null}, "data": {"values": [{"t": "lnbcgdp : dlnco2pc"}]}, "mark": {"type": "text", "fontSize": 10}, "encoding": {"text": {"field": "t"}}},
          {"width": 142, "height": 69, "transform": [{"filter": "datum.imp == 'lnbcgdp' && datum.resp == 'dlnco2pc'"}],
           "encoding": {"x": {"field": "step", "type": "quantitative", "scale": {"domain": [0, 10], "padding": 6}, "axis": null}},
           "layer": [
             {"mark": "area", "encoding": {"y": {"field": "lo", "type": "quantitative", "scale": {"domain": [-0.05, 0.16], "zero": false, "nice": false, "padding": 5}, "axis": {"title": null, "values": [-0.05, 0, 0.05, 0.1, 0.15], "minExtent": 45, "maxExtent": 45, "labelExpr": "replace(toString(datum.value), regexp('^(-?)0[.]'), '$1.')"}}, "y2": {"field": "hi"}, "color": {"datum": "95% CI"}}},
             {"mark": "line", "encoding": {"y": {"field": "irf", "type": "quantitative"}, "color": {"datum": "Orthogonalized IRF"}}}
           ]}
        ]},

        {"bounds": "flush", "spacing": 0, "vconcat": [
          {"width": 142, "height": 14, "view": {"fill": "#d6e3e9", "stroke": null}, "data": {"values": [{"t": "dlngdppc : dlnpop"}]}, "mark": {"type": "text", "fontSize": 10}, "encoding": {"text": {"field": "t"}}},
          {"width": 142, "height": 69, "transform": [{"filter": "datum.imp == 'dlngdppc' && datum.resp == 'dlnpop'"}],
           "encoding": {"x": {"field": "step", "type": "quantitative", "scale": {"domain": [0, 10], "padding": 6}, "axis": null}},
           "layer": [
             {"mark": "area", "encoding": {"y": {"field": "lo", "type": "quantitative", "scale": {"domain": [-0.0005, 0.0005], "zero": false, "nice": false, "padding": 5}, "axis": {"title": null, "values": [-0.0005, 0, 0.0005], "minExtent": 109, "maxExtent": 109, "labelExpr": "replace(toString(datum.value), regexp('^(-?)0[.]'), '$1.')"}}, "y2": {"field": "hi"}, "color": {"datum": "95% CI"}}},
             {"mark": "line", "encoding": {"y": {"field": "irf", "type": "quantitative"}, "color": {"datum": "Orthogonalized IRF"}}}
           ]}
        ]},
        {"bounds": "flush", "spacing": 0, "vconcat": [
          {"width": 142, "height": 14, "view": {"fill": "#d6e3e9", "stroke": null}, "data": {"values": [{"t": "dlngdppc : dlnbcr"}]}, "mark": {"type": "text", "fontSize": 10}, "encoding": {"text": {"field": "t"}}},
          {"width": 142, "height": 69, "transform": [{"filter": "datum.imp == 'dlngdppc' && datum.resp == 'dlnbcr'"}],
           "encoding": {"x": {"field": "step", "type": "quantitative", "scale": {"domain": [0, 10], "padding": 6}, "axis": null}},
           "layer": [
             {"mark": "area", "encoding": {"y": {"field": "lo", "type": "quantitative", "scale": {"domain": [-0.2, 0.4], "zero": false, "nice": false, "padding": 5}, "axis": {"title": null, "values": [-0.2, 0, 0.2, 0.4], "minExtent": 75, "maxExtent": 75, "labelExpr": "replace(toString(datum.value), regexp('^(-?)0[.]'), '$1.')"}}, "y2": {"field": "hi"}, "color": {"datum": "95% CI"}}},
             {"mark": "line", "encoding": {"y": {"field": "irf", "type": "quantitative"}, "color": {"datum": "Orthogonalized IRF"}}}
           ]}
        ]},
        {"bounds": "flush", "spacing": 0, "vconcat": [
          {"width": 142, "height": 14, "view": {"fill": "#d6e3e9", "stroke": null}, "data": {"values": [{"t": "dlngdppc : lnrec"}]}, "mark": {"type": "text", "fontSize": 10}, "encoding": {"text": {"field": "t"}}},
          {"width": 142, "height": 69, "transform": [{"filter": "datum.imp == 'dlngdppc' && datum.resp == 'lnrec'"}],
           "encoding": {"x": {"field": "step", "type": "quantitative", "scale": {"domain": [0, 10], "padding": 6}, "axis": null}},
           "layer": [
             {"mark": "area", "encoding": {"y": {"field": "lo", "type": "quantitative", "scale": {"domain": [-0.06, 0.028], "zero": false, "nice": false, "padding": 5}, "axis": {"title": null, "values": [-0.06, -0.04, -0.02, 0, 0.02], "minExtent": 73, "maxExtent": 73, "labelExpr": "replace(toString(datum.value), regexp('^(-?)0[.]'), '$1.')"}}, "y2": {"field": "hi"}, "color": {"datum": "95% CI"}}},
             {"mark": "line", "encoding": {"y": {"field": "irf", "type": "quantitative"}, "color": {"datum": "Orthogonalized IRF"}}}
           ]}
        ]},
        {"bounds": "flush", "spacing": 0, "vconcat": [
          {"width": 142, "height": 14, "view": {"fill": "#d6e3e9", "stroke": null}, "data": {"values": [{"t": "dlngdppc : lnbcgdp"}]}, "mark": {"type": "text", "fontSize": 10}, "encoding": {"text": {"field": "t"}}},
          {"width": 142, "height": 69, "transform": [{"filter": "datum.imp == 'dlngdppc' && datum.resp == 'lnbcgdp'"}],
           "encoding": {"x": {"field": "step", "type": "quantitative", "scale": {"domain": [0, 10], "padding": 6}, "axis": null}},
           "layer": [
             {"mark": "area", "encoding": {"y": {"field": "lo", "type": "quantitative", "scale": {"domain": [-1.1, 2], "zero": false, "nice": false, "padding": 5}, "axis": {"title": null, "values": [-1, 0, 1, 2], "minExtent": 36, "maxExtent": 36, "labelExpr": "replace(toString(datum.value), regexp('^(-?)0[.]'), '$1.')"}}, "y2": {"field": "hi"}, "color": {"datum": "95% CI"}}},
             {"mark": "line", "encoding": {"y": {"field": "irf", "type": "quantitative"}, "color": {"datum": "Orthogonalized IRF"}}}
           ]}
        ]},
        {"bounds": "flush", "spacing": 0, "vconcat": [
          {"width": 142, "height": 14, "view": {"fill": "#d6e3e9", "stroke": null}, "data": {"values": [{"t": "dlngdppc : dlngdppc"}]}, "mark": {"type": "text", "fontSize": 10}, "encoding": {"text": {"field": "t"}}},
          {"width": 142, "height": 69, "transform": [{"filter": "datum.imp == 'dlngdppc' && datum.resp == 'dlngdppc'"}],
           "encoding": {"x": {"field": "step", "type": "quantitative", "scale": {"domain": [0, 10], "padding": 6}, "axis": null}},
           "layer": [
             {"mark": "area", "encoding": {"y": {"field": "lo", "type": "quantitative", "scale": {"domain": [-0.1, 0.3], "zero": false, "nice": false, "padding": 5}, "axis": {"title": null, "values": [-0.1, 0, 0.1, 0.2, 0.3], "minExtent": 52, "maxExtent": 52, "labelExpr": "replace(toString(datum.value), regexp('^(-?)0[.]'), '$1.')"}}, "y2": {"field": "hi"}, "color": {"datum": "95% CI"}}},
             {"mark": "line", "encoding": {"y": {"field": "irf", "type": "quantitative"}, "color": {"datum": "Orthogonalized IRF"}}}
           ]}
        ]},
        {"bounds": "flush", "spacing": 0, "vconcat": [
          {"width": 142, "height": 14, "view": {"fill": "#d6e3e9", "stroke": null}, "data": {"values": [{"t": "dlngdppc : dlnco2pc"}]}, "mark": {"type": "text", "fontSize": 10}, "encoding": {"text": {"field": "t"}}},
          {"width": 142, "height": 69, "transform": [{"filter": "datum.imp == 'dlngdppc' && datum.resp == 'dlnco2pc'"}],
           "encoding": {"x": {"field": "step", "type": "quantitative", "scale": {"domain": [0, 10], "padding": 6}, "axis": null}},
           "layer": [
             {"mark": "area", "encoding": {"y": {"field": "lo", "type": "quantitative", "scale": {"domain": [-0.1, 0.2], "zero": false, "nice": false, "padding": 5}, "axis": {"title": null, "values": [-0.1, 0, 0.1, 0.2], "minExtent": 45, "maxExtent": 45, "labelExpr": "replace(toString(datum.value), regexp('^(-?)0[.]'), '$1.')"}}, "y2": {"field": "hi"}, "color": {"datum": "95% CI"}}},
             {"mark": "line", "encoding": {"y": {"field": "irf", "type": "quantitative"}, "color": {"datum": "Orthogonalized IRF"}}}
           ]}
        ]},

        {"bounds": "flush", "spacing": 0, "vconcat": [
          {"width": 142, "height": 14, "view": {"fill": "#d6e3e9", "stroke": null}, "data": {"values": [{"t": "dlnco2pc : dlnpop"}]}, "mark": {"type": "text", "fontSize": 10}, "encoding": {"text": {"field": "t"}}},
          {"width": 142, "height": 69, "transform": [{"filter": "datum.imp == 'dlnco2pc' && datum.resp == 'dlnpop'"}],
           "encoding": {"x": {"field": "step", "type": "quantitative", "scale": {"domain": [0, 10], "padding": 6}, "axis": {"title": null, "values": [0, 5, 10], "grid": false}}},
           "layer": [
             {"mark": "area", "encoding": {"y": {"field": "lo", "type": "quantitative", "scale": {"domain": [-0.00105, 0.0001], "zero": false, "nice": false, "padding": 5}, "axis": {"title": null, "values": [-0.001, -0.0005, 0], "minExtent": 109, "maxExtent": 109, "labelExpr": "replace(toString(datum.value), regexp('^(-?)0[.]'), '$1.')"}}, "y2": {"field": "hi"}, "color": {"datum": "95% CI"}}},
             {"mark": "line", "encoding": {"y": {"field": "irf", "type": "quantitative"}, "color": {"datum": "Orthogonalized IRF"}}}
           ]}
        ]},
        {"bounds": "flush", "spacing": 0, "vconcat": [
          {"width": 142, "height": 14, "view": {"fill": "#d6e3e9", "stroke": null}, "data": {"values": [{"t": "dlnco2pc : dlnbcr"}]}, "mark": {"type": "text", "fontSize": 10}, "encoding": {"text": {"field": "t"}}},
          {"width": 142, "height": 69, "transform": [{"filter": "datum.imp == 'dlnco2pc' && datum.resp == 'dlnbcr'"}],
           "encoding": {"x": {"field": "step", "type": "quantitative", "scale": {"domain": [0, 10], "padding": 6}, "axis": {"title": null, "values": [0, 5, 10], "grid": false}}},
           "layer": [
             {"mark": "area", "encoding": {"y": {"field": "lo", "type": "quantitative", "scale": {"domain": [-0.72, 0.55], "zero": false, "nice": false, "padding": 5}, "axis": {"title": null, "values": [-0.5, 0, 0.5], "minExtent": 75, "maxExtent": 75, "labelExpr": "replace(toString(datum.value), regexp('^(-?)0[.]'), '$1.')"}}, "y2": {"field": "hi"}, "color": {"datum": "95% CI"}}},
             {"mark": "line", "encoding": {"y": {"field": "irf", "type": "quantitative"}, "color": {"datum": "Orthogonalized IRF"}}}
           ]}
        ]},
        {"bounds": "flush", "spacing": 0, "vconcat": [
          {"width": 142, "height": 14, "view": {"fill": "#d6e3e9", "stroke": null}, "data": {"values": [{"t": "dlnco2pc : lnrec"}]}, "mark": {"type": "text", "fontSize": 10}, "encoding": {"text": {"field": "t"}}},
          {"width": 142, "height": 69, "transform": [{"filter": "datum.imp == 'dlnco2pc' && datum.resp == 'lnrec'"}],
           "encoding": {"x": {"field": "step", "type": "quantitative", "scale": {"domain": [0, 10], "padding": 6}, "axis": {"title": null, "values": [0, 5, 10], "grid": false}}},
           "layer": [
             {"mark": "area", "encoding": {"y": {"field": "lo", "type": "quantitative", "scale": {"domain": [-0.12, 0.05], "zero": false, "nice": false, "padding": 5}, "axis": {"title": null, "values": [-0.1, -0.05, 0, 0.05], "minExtent": 73, "maxExtent": 73, "labelExpr": "replace(toString(datum.value), regexp('^(-?)0[.]'), '$1.')"}}, "y2": {"field": "hi"}, "color": {"datum": "95% CI"}}},
             {"mark": "line", "encoding": {"y": {"field": "irf", "type": "quantitative"}, "color": {"datum": "Orthogonalized IRF"}}}
           ]}
        ]},
        {"bounds": "flush", "spacing": 0, "vconcat": [
          {"width": 142, "height": 14, "view": {"fill": "#d6e3e9", "stroke": null}, "data": {"values": [{"t": "dlnco2pc : lnbcgdp"}]}, "mark": {"type": "text", "fontSize": 10}, "encoding": {"text": {"field": "t"}}},
          {"width": 142, "height": 69, "transform": [{"filter": "datum.imp == 'dlnco2pc' && datum.resp == 'lnbcgdp'"}],
           "encoding": {"x": {"field": "step", "type": "quantitative", "scale": {"domain": [0, 10], "padding": 6}, "axis": {"title": null, "values": [0, 5, 10], "grid": false}}},
           "layer": [
             {"mark": "area", "encoding": {"y": {"field": "lo", "type": "quantitative", "scale": {"domain": [-5.2, 5], "zero": false, "nice": false, "padding": 5}, "axis": {"title": null, "values": [-5, 0, 5], "minExtent": 36, "maxExtent": 36, "labelExpr": "replace(toString(datum.value), regexp('^(-?)0[.]'), '$1.')"}}, "y2": {"field": "hi"}, "color": {"datum": "95% CI"}}},
             {"mark": "line", "encoding": {"y": {"field": "irf", "type": "quantitative"}, "color": {"datum": "Orthogonalized IRF"}}}
           ]}
        ]},
        {"bounds": "flush", "spacing": 0, "vconcat": [
          {"width": 142, "height": 14, "view": {"fill": "#d6e3e9", "stroke": null}, "data": {"values": [{"t": "dlnco2pc : dlngdppc"}]}, "mark": {"type": "text", "fontSize": 10}, "encoding": {"text": {"field": "t"}}},
          {"width": 142, "height": 69, "transform": [{"filter": "datum.imp == 'dlnco2pc' && datum.resp == 'dlngdppc'"}],
           "encoding": {"x": {"field": "step", "type": "quantitative", "scale": {"domain": [0, 10], "padding": 6}, "axis": {"title": null, "values": [0, 5, 10], "grid": false}}},
           "layer": [
             {"mark": "area", "encoding": {"y": {"field": "lo", "type": "quantitative", "scale": {"domain": [-0.22, 0.2], "zero": false, "nice": false, "padding": 5}, "axis": {"title": null, "values": [-0.2, -0.1, 0, 0.1, 0.2], "minExtent": 52, "maxExtent": 52, "labelExpr": "replace(toString(datum.value), regexp('^(-?)0[.]'), '$1.')"}}, "y2": {"field": "hi"}, "color": {"datum": "95% CI"}}},
             {"mark": "line", "encoding": {"y": {"field": "irf", "type": "quantitative"}, "color": {"datum": "Orthogonalized IRF"}}}
           ]}
        ]},
        {"bounds": "flush", "spacing": 0, "vconcat": [
          {"width": 142, "height": 14, "view": {"fill": "#d6e3e9", "stroke": null}, "data": {"values": [{"t": "dlnco2pc : dlnco2pc"}]}, "mark": {"type": "text", "fontSize": 10}, "encoding": {"text": {"field": "t"}}},
          {"width": 142, "height": 69, "transform": [{"filter": "datum.imp == 'dlnco2pc' && datum.resp == 'dlnco2pc'"}],
           "encoding": {"x": {"field": "step", "type": "quantitative", "scale": {"domain": [0, 10], "padding": 6}, "axis": {"title": null, "values": [0, 5, 10], "grid": false}}},
           "layer": [
             {"mark": "area", "encoding": {"y": {"field": "lo", "type": "quantitative", "scale": {"domain": [-0.65, 0.6], "zero": false, "nice": false, "padding": 5}, "axis": {"title": null, "values": [-0.5, 0, 0.5], "minExtent": 45, "maxExtent": 45, "labelExpr": "replace(toString(datum.value), regexp('^(-?)0[.]'), '$1.')"}}, "y2": {"field": "hi"}, "color": {"datum": "95% CI"}}},
             {"mark": "line", "encoding": {"y": {"field": "irf", "type": "quantitative"}, "color": {"datum": "Orthogonalized IRF"}}}
           ]}
        ]}
      ]
    }
  ],
  "config": {
    "font": "DejaVu Sans",
    "view": {"stroke": null, "fill": "#ffffff"},
    "range": {"category": ["#a9a9a9", "#22386a"]},
    "area": {"opacity": 1},
    "line": {"strokeWidth": 1.3},
    "text": {"color": "#111111"},
    "axis": {"domainColor": "#000000", "domainWidth": 1, "tickColor": "#000000", "tickWidth": 1, "tickSize": 4, "tickCount": 12, "labelColor": "#000000", "labelFontSize": 9, "labelPadding": 2, "labelOverlap": false, "gridColor": "#e0e8ec", "gridWidth": 1},
    "axisY": {"grid": true},
    "axisX": {"grid": false, "labelFontSize": 9.5},
    "legend": {"symbolSize": 784, "labelFontSize": 30, "labelColor": "#000000", "labelLimit": 500, "labelOffset": 114, "columnPadding": 53, "padding": 8, "strokeColor": "#000000", "fillColor": "#ffffff", "symbolStrokeWidth": 2, "cornerRadius": 0}
  }
}
